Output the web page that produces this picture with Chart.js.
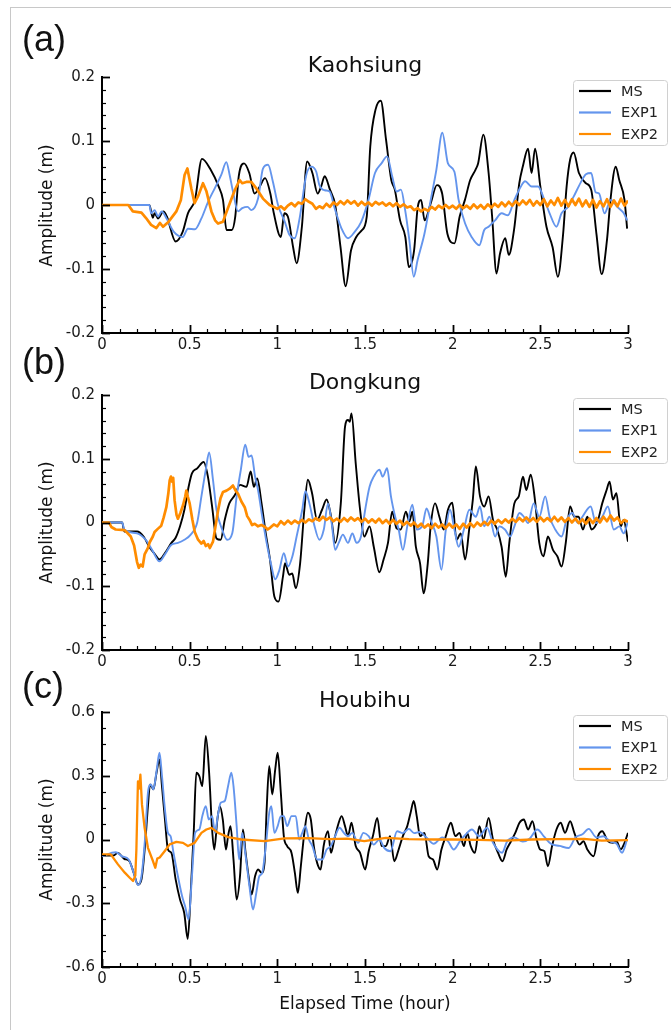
<!DOCTYPE html>
<html><head><meta charset="utf-8">
<script src="https://cdn.jsdelivr.net/npm/chart.js@4/dist/chart.umd.min.js"></script>
<style>
html,body{margin:0;padding:0;background:#fff;}
#wrap{position:relative;width:671px;height:1030px;overflow:hidden;background:#fff;font-family:"DejaVu Sans",sans-serif;color:#111;}
#frame{position:absolute;left:10px;top:7px;width:700px;height:1100px;border-top:1px solid #c8c8c8;border-left:1px solid #c8c8c8;}
canvas{position:absolute;left:0;top:0;}
.t{position:absolute;white-space:nowrap;line-height:1;}
.tag{font-family:"Liberation Sans",Arial,sans-serif;}
</style></head><body><div id="wrap"><div id="frame"></div>
<canvas id="ca" width="671" height="1030" style="width:671px;height:1030px"></canvas>
<canvas id="cb" width="671" height="1030" style="width:671px;height:1030px"></canvas>
<canvas id="cc" width="671" height="1030" style="width:671px;height:1030px"></canvas>
</div>
<script>
// ---------- DATA (time in hours, amplitude in m) ----------
const seriesNames = ['MS','EXP1','EXP2'];
const xTicks = [0,0.5,1,1.5,2,2.5,3];

// (a) Kaohsiung
const msA = [[0,0],[0.27,0],[0.29,-0.02],[0.30,-0.013],[0.32,-0.021],[0.35,-0.01],[0.37,-0.018],[0.42,-0.057],[0.46,-0.042],[0.49,-0.013],[0.53,0.008],[0.57,0.072],[0.62,0.055],[0.665,0.029],[0.69,0.008],[0.71,-0.039],[0.74,-0.039],[0.76,-0.018],[0.78,0.045],[0.81,0.065],[0.84,0.05],[0.87,0.018],[0.90,0.029],[0.93,0.042],[0.96,0.018],[0.98,-0.013],[1.02,-0.05],[1.04,-0.013],[1.06,-0.018],[1.09,-0.066],[1.11,-0.091],[1.14,-0.034],[1.17,0.068],[1.20,0.05],[1.23,0.018],[1.25,0.029],[1.27,0.045],[1.30,0.024],[1.33,0],[1.36,-0.065],[1.39,-0.127],[1.42,-0.071],[1.45,-0.05],[1.48,-0.04],[1.51,-0.018],[1.53,0.091],[1.56,0.149],[1.59,0.163],[1.62,0.102],[1.65,0.039],[1.67,0.024],[1.70,-0.024],[1.73,-0.05],[1.75,-0.097],[1.78,-0.071],[1.80,-0.005],[1.82,0.008],[1.84,-0.024],[1.875,0.003],[1.91,0.031],[1.94,0.018],[1.97,-0.045],[2.01,-0.06],[2.04,-0.018],[2.07,0.008],[2.10,0.039],[2.13,0.055],[2.145,0.065],[2.175,0.11],[2.205,0.05],[2.225,-0.018],[2.25,-0.107],[2.27,-0.076],[2.30,-0.052],[2.32,-0.078],[2.35,-0.039],[2.38,0.034],[2.40,0.06],[2.43,0.088],[2.45,0.05],[2.47,0.088],[2.50,0.029],[2.535,-0.034],[2.57,-0.066],[2.60,-0.112],[2.63,-0.045],[2.65,0.029],[2.67,0.071],[2.69,0.082],[2.72,0.05],[2.76,0.034],[2.79,0.024],[2.82,-0.045],[2.85,-0.108],[2.88,-0.055],[2.90,0.008],[2.93,0.06],[2.95,0.039],[2.98,0.008],[2.995,-0.037]];
const exp1A = [[0,0],[0.27,0],[0.28,-0.013],[0.30,-0.008],[0.32,-0.018],[0.34,-0.01],[0.37,-0.022],[0.41,-0.042],[0.46,-0.05],[0.49,-0.037],[0.53,-0.038],[0.567,-0.021],[0.605,0.005],[0.643,0.026],[0.68,0.047],[0.709,0.067],[0.728,0.047],[0.747,0.021],[0.776,-0.01],[0.80,-0.005],[0.83,-0.003],[0.852,-0.008],[0.89,0.01],[0.918,0.057],[0.947,0.063],[0.975,0.036],[1.004,0],[1.042,-0.026],[1.07,-0.047],[1.099,-0.052],[1.127,-0.021],[1.165,0.047],[1.194,0.06],[1.222,0.052],[1.24,0.031],[1.27,0.023],[1.298,0.021],[1.327,-0.005],[1.365,-0.036],[1.403,-0.052],[1.441,-0.042],[1.479,-0.026],[1.52,0.008],[1.557,0.05],[1.594,0.065],[1.626,0.076],[1.655,0.045],[1.68,0.021],[1.705,0.024],[1.729,-0.008],[1.753,-0.055],[1.778,-0.112],[1.80,-0.086],[1.839,-0.045],[1.875,0.008],[1.907,0.055],[1.941,0.113],[1.973,0.065],[2.01,0.052],[2.034,0.008],[2.071,-0.029],[2.108,-0.05],[2.152,-0.063],[2.18,-0.039],[2.205,-0.034],[2.242,-0.024],[2.279,-0.013],[2.315,-0.016],[2.352,0.008],[2.389,0.029],[2.413,0.037],[2.45,0.029],[2.487,0.029],[2.523,0.008],[2.553,-0.013],[2.592,-0.034],[2.621,-0.013],[2.658,-0.003],[2.69,0.013],[2.73,0.035],[2.76,0.048],[2.79,0.05],[2.815,0.02],[2.835,0.018],[2.866,-0.013],[2.902,0.008],[2.939,-0.003],[2.976,-0.013],[2.995,-0.024]];
const exp2A = [[0,0],[0.15,0],[0.176,-0.01],[0.225,-0.012],[0.25,-0.02],[0.28,-0.031],[0.31,-0.036],[0.33,-0.028],[0.348,-0.034],[0.38,-0.026],[0.424,-0.01],[0.45,0.008],[0.471,0.047],[0.487,0.057],[0.51,0.025],[0.528,0.003],[0.55,0.015],[0.576,0.034],[0.595,0.022],[0.624,-0.01],[0.645,-0.024],[0.662,-0.029],[0.69,-0.026],[0.718,-0.005],[0.757,0.023],[0.785,0.039],[0.80,0.034],[0.823,0.036],[0.852,0.036],[0.88,0.026],[0.918,0.01],[0.956,0],[0.98,-0.003],
[1.00,-0.006],[1.02,-0.002],[1.04,-0.007],[1.06,-0.001],[1.08,0.003],[1.10,-0.002],[1.12,0.004],[1.14,0.002],[1.16,0.009],[1.18,0.005],[1.20,0.002],[1.22,-0.006],[1.24,-0.002],[1.26,-0.005],[1.28,0.002],[1.30,-0.003],[1.32,0.004],[1.34,0.000],[1.36,0.006],[1.38,0.001],[1.40,0.007],[1.42,0.002],[1.44,0.006],[1.46,-0.001],[1.48,0.005],[1.50,0.000],[1.52,0.004],[1.54,-0.001],[1.56,0.005],[1.58,0.001],[1.60,0.004],[1.62,-0.001],[1.64,0.003],[1.66,-0.002],[1.68,0.003],[1.70,-0.003],[1.72,0.001],[1.74,-0.004],[1.76,-0.002],[1.78,-0.008],[1.80,-0.005],[1.82,-0.010],[1.84,-0.006],[1.86,-0.009],[1.88,-0.003],[1.90,-0.007],[1.92,-0.001],[1.94,-0.005],[1.96,0.000],[1.98,-0.005],[2.00,-0.001],[2.02,-0.006],[2.04,0.000],[2.06,-0.005],[2.08,-0.001],[2.10,-0.006],[2.12,0.001],[2.14,-0.005],[2.16,0.000],[2.18,-0.006],[2.20,0.001],[2.22,-0.004],[2.24,0.002],[2.26,-0.003],[2.28,0.004],[2.30,-0.002],[2.32,0.005],[2.34,-0.001],[2.36,0.006],[2.38,0.000],[2.40,0.007],[2.42,0.001],[2.44,0.008],[2.46,-0.001],[2.48,0.006],[2.50,0.000],[2.52,0.009],[2.54,-0.002],[2.56,0.007],[2.58,0.000],[2.60,0.011],[2.62,-0.001],[2.64,0.008],[2.66,-0.002],[2.68,0.009],[2.70,0.000],[2.72,0.010],[2.74,-0.002],[2.76,0.007],[2.78,-0.003],[2.80,0.008],[2.82,-0.004],[2.84,0.006],[2.86,-0.002],[2.88,0.009],[2.90,-0.003],[2.92,0.007],[2.94,-0.002],[2.96,0.010],[2.98,-0.001],[3.00,0.007]];

// (b) Dongkung
const msB = [[0,0],[0.115,0],[0.127,-0.014],[0.20,-0.014],[0.237,-0.022],[0.274,-0.04],[0.30,-0.049],[0.328,-0.058],[0.359,-0.048],[0.396,-0.032],[0.42,-0.024],[0.445,-0.006],[0.47,0.02],[0.494,0.056],[0.513,0.077],[0.543,0.085],[0.58,0.095],[0.604,0.072],[0.628,0.025],[0.653,-0.025],[0.677,-0.027],[0.70,0.004],[0.726,0.03],[0.758,0.043],[0.787,0.059],[0.824,0.056],[0.848,0.08],[0.866,0.056],[0.885,0.069],[0.91,0.03],[0.934,-0.017],[0.958,-0.058],[0.983,-0.116],[1.007,-0.124],[1.032,-0.085],[1.044,-0.064],[1.068,-0.082],[1.085,-0.08],[1.105,-0.103],[1.13,-0.064],[1.154,0.02],[1.174,0.067],[1.198,0.046],[1.227,0.004],[1.255,0.02],[1.281,0.036],[1.306,0.01],[1.33,-0.032],[1.362,0.03],[1.386,0.15],[1.403,0.161],[1.413,0.158],[1.423,0.171],[1.447,0.093],[1.472,0.02],[1.496,-0.022],[1.526,-0.006],[1.55,-0.038],[1.582,-0.078],[1.606,-0.058],[1.631,-0.032],[1.655,0.017],[1.68,-0.009],[1.704,-0.011],[1.733,0.017],[1.753,0.002],[1.77,0.017],[1.79,-0.038],[1.814,-0.064],[1.834,-0.111],[1.858,-0.064],[1.875,-0.004],[1.90,0.03],[1.924,0.009],[1.949,-0.011],[1.973,0.02],[1.998,0.031],[2.022,-0.027],[2.046,-0.017],[2.071,-0.058],[2.095,-0.009],[2.115,0.036],[2.132,0.088],[2.156,0.041],[2.18,0.025],[2.205,0.041],[2.23,0.004],[2.254,-0.011],[2.279,-0.038],[2.303,-0.085],[2.323,-0.032],[2.352,0.03],[2.377,0.041],[2.401,0.072],[2.42,0.051],[2.445,0.075],[2.469,0.036],[2.494,-0.032],[2.518,-0.053],[2.543,-0.022],[2.572,-0.043],[2.597,-0.053],[2.621,-0.069],[2.645,-0.032],[2.67,0.025],[2.694,0.009],[2.718,0.009],[2.743,-0.011],[2.768,0.009],[2.792,-0.011],[2.829,0.004],[2.853,0.03],[2.878,0.051],[2.895,0.064],[2.914,0.036],[2.934,0.046],[2.958,-0.006],[2.975,0.004],[3.0,-0.03]];
const exp1B = [[0,0],[0.115,0],[0.127,-0.011],[0.20,-0.017],[0.249,-0.027],[0.286,-0.043],[0.328,-0.061],[0.359,-0.05],[0.396,-0.035],[0.433,-0.032],[0.47,-0.027],[0.506,-0.019],[0.543,0],[0.567,0.041],[0.592,0.083],[0.611,0.11],[0.633,0.067],[0.653,0.02],[0.685,-0.011],[0.714,-0.027],[0.743,-0.017],[0.768,0.041],[0.792,0.083],[0.817,0.122],[0.836,0.103],[0.853,0.105],[0.873,0.072],[0.89,0.051],[0.914,0.009],[0.939,-0.032],[0.963,-0.064],[0.988,-0.089],[1.012,-0.074],[1.037,-0.048],[1.061,-0.069],[1.086,-0.053],[1.11,-0.022],[1.142,0.02],[1.16,0.049],[1.183,0.03],[1.208,-0.001],[1.24,-0.027],[1.265,-0.011],[1.289,0.03],[1.31,-0.001],[1.33,-0.043],[1.35,-0.032],[1.374,-0.019],[1.403,-0.032],[1.428,-0.017],[1.452,-0.032],[1.477,-0.022],[1.501,0.02],[1.526,0.056],[1.55,0.072],[1.582,0.083],[1.601,0.072],[1.626,0.085],[1.648,0.041],[1.672,0.009],[1.692,-0.011],[1.716,-0.043],[1.741,-0.006],[1.77,0.028],[1.795,-0.011],[1.826,-0.006],[1.851,0.022],[1.875,0.004],[1.907,-0.022],[1.936,-0.074],[1.961,-0.011],[1.985,0.02],[2.01,-0.011],[2.034,-0.038],[2.064,-0.011],[2.095,0.02],[2.132,0.009],[2.156,0.025],[2.18,-0.006],[2.21,0.009],[2.242,-0.022],[2.267,-0.006],[2.298,-0.011],[2.328,-0.022],[2.352,-0.006],[2.381,0.015],[2.406,0.009],[2.43,-0.001],[2.462,0.03],[2.494,0.009],[2.528,0.041],[2.553,0.009],[2.585,-0.011],[2.621,-0.022],[2.65,0.004],[2.682,0.015],[2.714,-0.001],[2.74,0.009],[2.787,0.025],[2.817,-0.001],[2.853,0.009],[2.885,0.025],[2.919,-0.011],[2.951,-0.006],[2.975,-0.017],[3.0,0.002]];
const exp2B = [[0,0],[0.04,0],[0.053,-0.007],[0.078,-0.011],[0.129,-0.012],[0.164,-0.022],[0.183,-0.036],[0.20,-0.062],[0.21,-0.071],[0.22,-0.066],[0.232,-0.069],[0.243,-0.05],[0.262,-0.04],[0.272,-0.031],[0.29,-0.022],[0.30,-0.015],[0.318,-0.01],[0.338,-0.005],[0.352,0.008],[0.367,0.024],[0.378,0.045],[0.386,0.066],[0.393,0.072],[0.40,0.064],[0.406,0.07],[0.414,0.035],[0.425,0.012],[0.433,0.006],[0.447,0.015],[0.462,0.027],[0.474,0.04],[0.481,0.05],[0.49,0.04],[0.50,0.03],[0.515,0.005],[0.529,-0.015],[0.548,-0.027],[0.567,-0.033],[0.58,-0.029],[0.592,-0.037],[0.605,-0.034],[0.615,-0.04],[0.633,-0.03],[0.645,-0.01],[0.662,0.019],[0.676,0.038],[0.69,0.048],[0.71,0.05],[0.728,0.053],[0.747,0.058],[0.762,0.05],[0.776,0.045],[0.795,0.033],[0.814,0.024],[0.828,0.01],[0.842,0.004],[0.856,-0.004],[0.871,-0.002],[0.89,-0.006],[0.909,-0.004],[0.93,-0.007],[0.945,-0.011],
[0.96,-0.008],[0.98,-0.003],[1.00,-0.006],[1.02,0.002],[1.04,-0.003],[1.06,0.003],[1.08,-0.002],[1.10,0.003],[1.12,-0.001],[1.14,0.004],[1.16,0.000],[1.18,0.005],[1.20,0.002],[1.22,0.007],[1.24,0.003],[1.26,0.009],[1.28,0.004],[1.30,0.008],[1.32,0.002],[1.34,0.006],[1.36,0.001],[1.38,0.007],[1.40,0.002],[1.42,0.008],[1.44,0.003],[1.46,0.007],[1.48,0.001],[1.50,0.006],[1.52,0.000],[1.54,0.005],[1.56,0.000],[1.58,0.006],[1.60,-0.001],[1.62,0.004],[1.64,-0.002],[1.66,0.004],[1.68,-0.002],[1.70,0.003],[1.72,-0.004],[1.74,0.001],[1.76,-0.005],[1.78,0.000],[1.80,-0.007],[1.82,-0.002],[1.84,-0.008],[1.86,-0.003],[1.88,-0.009],[1.90,-0.002],[1.92,-0.008],[1.94,-0.003],[1.96,-0.009],[1.98,-0.002],[2.00,-0.008],[2.02,-0.003],[2.04,-0.010],[2.06,-0.002],[2.08,-0.008],[2.10,-0.001],[2.12,-0.007],[2.14,0.000],[2.16,-0.005],[2.18,0.001],[2.20,-0.004],[2.22,0.003],[2.24,-0.002],[2.26,0.004],[2.28,-0.001],[2.30,0.005],[2.32,0.000],[2.34,0.006],[2.36,0.001],[2.38,0.007],[2.40,0.002],[2.42,0.008],[2.44,0.002],[2.46,0.007],[2.48,0.001],[2.50,0.008],[2.52,0.002],[2.54,0.007],[2.56,0.002],[2.58,0.009],[2.60,0.002],[2.62,0.008],[2.64,0.001],[2.66,0.007],[2.68,0.000],[2.70,0.006],[2.72,-0.001],[2.74,0.005],[2.76,-0.002],[2.78,0.006],[2.80,-0.001],[2.82,0.007],[2.84,0.000],[2.86,0.009],[2.88,0.002],[2.90,0.011],[2.92,0.003],[2.94,0.008],[2.96,-0.001],[2.98,0.004],[3.00,0.001]];

// (c) Houbihu
const msC = [[0,-0.075],[0.066,-0.075],[0.09,-0.063],[0.127,-0.091],[0.156,-0.102],[0.181,-0.157],[0.205,-0.212],[0.225,-0.188],[0.245,-0.031],[0.262,0.157],[0.274,0.259],[0.293,0.236],[0.311,0.314],[0.328,0.377],[0.342,0.251],[0.359,0.094],[0.376,-0.047],[0.396,-0.063],[0.42,-0.188],[0.445,-0.283],[0.469,-0.346],[0.489,-0.468],[0.506,-0.251],[0.523,0.031],[0.538,0.314],[0.555,0.298],[0.572,0.251],[0.592,0.487],[0.611,0.314],[0.628,0.047],[0.64,-0.047],[0.658,0.094],[0.672,0.157],[0.689,0.094],[0.707,-0.047],[0.719,0.016],[0.733,0.063],[0.75,-0.094],[0.768,-0.283],[0.787,-0.173],[0.804,0.047],[0.819,-0.063],[0.836,-0.173],[0.853,-0.259],[0.873,-0.173],[0.89,-0.141],[0.91,-0.157],[0.927,-0.11],[0.939,0.141],[0.954,0.346],[0.971,0.212],[0.988,0.33],[1.002,0.408],[1.02,0.22],[1.037,0.016],[1.056,-0.031],[1.081,-0.063],[1.10,-0.157],[1.117,-0.251],[1.134,-0.126],[1.154,0.031],[1.174,0.126],[1.191,0.094],[1.208,-0.031],[1.227,-0.11],[1.247,-0.141],[1.264,-0.031],[1.289,0.039],[1.306,-0.063],[1.325,0],[1.35,0.079],[1.367,0.11],[1.386,0.063],[1.403,0.016],[1.423,0.079],[1.447,-0.031],[1.472,-0.063],[1.501,-0.141],[1.521,-0.055],[1.545,0.016],[1.57,0.102],[1.594,-0.031],[1.619,-0.031],[1.643,0.016],[1.667,-0.102],[1.692,-0.047],[1.716,0.016],[1.741,0.063],[1.76,0.126],[1.778,0.181],[1.795,0.11],[1.814,0.016],[1.839,0.031],[1.863,-0.079],[1.888,-0.094],[1.912,-0.141],[1.936,-0.047],[1.961,0.016],[1.99,0.079],[2.015,0.016],[2.039,0.031],[2.064,-0.031],[2.083,0.031],[2.103,-0.031],[2.127,-0.063],[2.152,0.063],[2.176,0],[2.205,0.102],[2.23,0],[2.259,-0.063],[2.284,-0.102],[2.308,-0.047],[2.333,-0.008],[2.357,0.031],[2.381,0.079],[2.406,0.094],[2.43,0.047],[2.455,0.086],[2.479,0],[2.499,-0.047],[2.523,-0.055],[2.543,-0.126],[2.567,-0.031],[2.592,0.047],[2.616,0.079],[2.641,0.031],[2.67,0.086],[2.694,0.031],[2.724,-0.024],[2.746,-0.008],[2.768,-0.047],[2.804,-0.079],[2.829,0.016],[2.853,0.039],[2.885,-0.008],[2.914,-0.016],[2.935,-0.008],[2.958,-0.047],[2.976,-0.024],[3.0,0.031]];
const exp1C = [[0,-0.079],[0.078,-0.06],[0.115,-0.079],[0.152,-0.094],[0.181,-0.157],[0.205,-0.214],[0.225,-0.173],[0.245,0],[0.262,0.22],[0.279,0.259],[0.293,0.236],[0.311,0.322],[0.328,0.408],[0.342,0.299],[0.359,0.141],[0.376,0.031],[0.391,0.016],[0.408,-0.063],[0.433,-0.173],[0.457,-0.267],[0.474,-0.314],[0.494,-0.377],[0.513,-0.173],[0.531,0.031],[0.555,0.047],[0.572,0.11],[0.592,0.157],[0.609,0.094],[0.628,0.11],[0.645,0.031],[0.66,0.11],[0.677,0.173],[0.70,0.181],[0.719,0.251],[0.738,0.314],[0.75,0.251],[0.768,0.063],[0.782,-0.094],[0.80,0.031],[0.817,-0.063],[0.841,-0.22],[0.861,-0.33],[0.88,-0.251],[0.897,-0.173],[0.914,-0.157],[0.934,-0.031],[0.954,0.126],[0.966,0.157],[0.983,0.031],[1.002,0.063],[1.02,0.11],[1.037,0.11],[1.056,0.063],[1.081,0.11],[1.105,0.11],[1.125,0],[1.142,0.031],[1.16,0.063],[1.18,0],[1.20,-0.031],[1.227,-0.094],[1.257,-0.094],[1.281,-0.047],[1.305,-0.031],[1.33,0.016],[1.355,0.055],[1.379,0.031],[1.403,0.016],[1.428,0.031],[1.46,-0.016],[1.491,0.031],[1.521,0.016],[1.55,-0.024],[1.582,0],[1.61,-0.04],[1.645,-0.055],[1.683,0.039],[1.715,0.03],[1.75,0.05],[1.78,0.03],[1.81,0.035],[1.85,0.01],[1.892,-0.02],[1.94,0.01],[1.975,-0.01],[2.006,-0.047],[2.04,-0.01],[2.07,0.02],[2.11,0.047],[2.15,0.015],[2.196,0.055],[2.23,-0.015],[2.282,-0.062],[2.31,-0.01],[2.35,0.01],[2.40,-0.01],[2.44,0.005],[2.483,0.047],[2.52,0.015],[2.56,-0.02],[2.61,-0.03],[2.662,-0.04],[2.70,0.01],[2.74,0.025],[2.776,0.05],[2.82,0.01],[2.86,0.015],[2.90,-0.01],[2.935,-0.02],[2.966,-0.062],[2.995,0]];
const exp2C = [[0,-0.07],[0.05,-0.07],[0.091,-0.117],[0.13,-0.156],[0.158,-0.18],[0.177,-0.195],[0.19,-0.17],[0.196,-0.05],[0.205,0.273],[0.212,0.24],[0.219,0.305],[0.228,0.164],[0.243,0.055],[0.262,-0.039],[0.29,-0.1],[0.304,-0.133],[0.315,-0.09],[0.329,-0.085],[0.357,-0.055],[0.386,-0.023],[0.424,-0.011],[0.462,-0.016],[0.49,-0.031],[0.528,-0.016],[0.567,0.031],[0.595,0.047],[0.624,0.055],[0.662,0.031],[0.72,0.011],[0.795,0],[0.928,-0.008],[1.04,0.005],[1.178,0.006],[1.30,0.002],[1.40,0.004],[1.496,-0.008],[1.619,0.008],[1.75,0.002],[1.9,0],[2.0,0],[2.15,-0.002],[2.3,-0.005],[2.45,0],[2.6,0.002],[2.75,0.003],[2.85,-0.005],[3.0,-0.003]];

// ---------- PANEL SETUP ----------
const panels = [
  {id:'ca', tag:'(a)', name:'Kaohsiung', ms:msA, e1:exp1A, e2:exp2A, yMin:-0.2, yMax:0.2, yStep:0.1, yMinor:0.02, top:77, bottom:333, tagBase:51, titleBase:73, e2w:2.7},
  {id:'cb', tag:'(b)', name:'Dongkung',  ms:msB, e1:exp1B, e2:exp2B, yMin:-0.2, yMax:0.2, yStep:0.1, yMinor:0.02, top:395, bottom:650, tagBase:374, titleBase:390, e2w:2.7},
  {id:'cc', tag:'(c)', name:'Houbihu',   ms:msC, e1:exp1C, e2:exp2C, yMin:-0.6, yMax:0.6, yStep:0.3, yMinor:0.075, top:712, bottom:967, tagBase:698, titleBase:708, e2w:2.3}
];
const L = 102, R = 628, W = 671, H = 1030;
const FONT = '"DejaVu Sans", sans-serif';
const fmt = v => { const r = Math.round(v*10)/10; return r === 0 ? '0' : String(r); };
const toXY = arr => arr.map(p => ({x:p[0], y:p[1]}));

const inTicks = {
  id:'inTicks',
  afterDraw(chart){
    const {ctx, chartArea:a, scales:{x, y}} = chart;
    const o = chart.options.plugins.inTicks;
    ctx.save();
    ctx.strokeStyle = '#000';
    const seg = (x1,y1,x2,y2,w) => { ctx.lineWidth = w; ctx.beginPath(); ctx.moveTo(x1,y1); ctx.lineTo(x2,y2); ctx.stroke(); };
    for (let i = 0; i <= 30; i++) {
      const px = Math.round(x.getPixelForValue(i*0.1)) + 0.5;
      const major = i % 5 === 0;
      seg(px, a.bottom, px, a.bottom - (major ? 8 : 4), major ? 1.8 : 1.2);
    }
    const n = Math.round((o.max - o.min)/o.minor);
    const per = Math.round(o.step/o.minor);
    for (let i = 0; i <= n; i++) {
      const py = Math.round(y.getPixelForValue(o.min + i*o.minor)) + 0.5;
      const major = i % per === 0;
      seg(a.left, py, a.left + (major ? 8 : 4), py, major ? 1.8 : 1.2);
    }
    ctx.restore();
  }
};
const boxLegend = {
  id:'boxLegend',
  afterDraw(chart){
    const {ctx, chartArea:a} = chart;
    const bx = a.right - 55, by = a.top + 3, bw = 94, bh = 65;
    ctx.save();
    ctx.fillStyle = '#fff'; ctx.strokeStyle = '#d0d0d0'; ctx.lineWidth = 1;
    ctx.beginPath();
    if (ctx.roundRect) ctx.roundRect(bx+0.5, by+0.5, bw, bh, 3); else ctx.rect(bx+0.5, by+0.5, bw, bh);
    ctx.fill(); ctx.stroke();
    ctx.font = '14.5px ' + FONT; ctx.textBaseline = 'middle'; ctx.fillStyle = '#222';
    chart.data.datasets.forEach((ds, i) => {
      const yy = by + 11 + i*21.5;
      ctx.strokeStyle = ds.borderColor; ctx.lineWidth = 2.2;
      ctx.beginPath(); ctx.moveTo(bx + 6, yy); ctx.lineTo(bx + 38, yy); ctx.stroke();
      ctx.fillText(ds.label, bx + 48, yy + 1);
    });
    ctx.restore();
  }
};

const wrap = document.getElementById('wrap');
function addText(txt, css, cls){ const d = document.createElement('div'); d.className = 't' + (cls ? ' ' + cls : ''); d.textContent = txt; d.style.cssText += css; wrap.appendChild(d); return d; }

panels.forEach((P, k) => {
  const colors = ['#000000', '#6495ED', '#FF8C00'];
  new Chart(document.getElementById(P.id), {
    type:'line',
    data:{datasets:[
      {label:seriesNames[0], data:toXY(P.ms), borderColor:colors[0], borderWidth:1.9, pointRadius:0, cubicInterpolationMode:'monotone', order:2},
      {label:seriesNames[1], data:toXY(P.e1), borderColor:colors[1], borderWidth:1.9, pointRadius:0, cubicInterpolationMode:'monotone', order:1},
      {label:seriesNames[2], data:toXY(P.e2), borderColor:colors[2], borderWidth:P.e2w, pointRadius:0, tension:0, borderJoinStyle:'round', order:0}
    ]},
    options:{
      responsive:false, animation:false, events:[],
      layout:{padding:{left:L-60, right:W-R, top:P.top, bottom:H-P.bottom-30}},
      plugins:{legend:{display:false}, tooltip:{enabled:false}, title:{display:false},
        inTicks:{min:P.yMin, max:P.yMax, step:P.yStep, minor:P.yMinor}},
      scales:{
        x:{type:'linear', min:0, max:3,
           afterBuildTicks: s => { s.ticks = xTicks.map(v => ({value:v})); },
           ticks:{font:{family:FONT, size:15}, color:'#1a1a1a', padding:3, maxRotation:0, autoSkip:false, callback:fmt},
           grid:{display:false, drawTicks:false}, border:{display:true, color:'#000', width:2},
           afterFit: s => { s.height = 30; }},
        y:{type:'linear', min:P.yMin, max:P.yMax,
           ticks:{stepSize:P.yStep, font:{family:FONT, size:15}, color:'#1a1a1a', padding:7, callback:fmt},
           grid:{display:false, drawTicks:false}, border:{display:true, color:'#000', width:2},
           afterFit: s => { s.width = 60; }}
      }
    },
    plugins:[inTicks, boxLegend]
  });
  // panel tag, station title, y-axis title
  addText(P.tag, `left:22px;top:${P.tagBase - 0.846*36}px;font-size:36px;`, 'tag');
  addText(P.name, `left:${L}px;width:${R-L}px;text-align:center;top:${P.titleBase - 0.846*22}px;font-size:22px;`);
  const cy = (P.top + P.bottom)/2;
  addText('Amplitude (m)', `left:${46-150}px;width:300px;text-align:center;top:${cy-8.5}px;font-size:17px;transform:rotate(-90deg);`);
});
addText('Elapsed Time (hour)', `left:${L}px;width:${R-L}px;text-align:center;top:${1009 - 0.846*17}px;font-size:17px;`);
</script></body></html>
